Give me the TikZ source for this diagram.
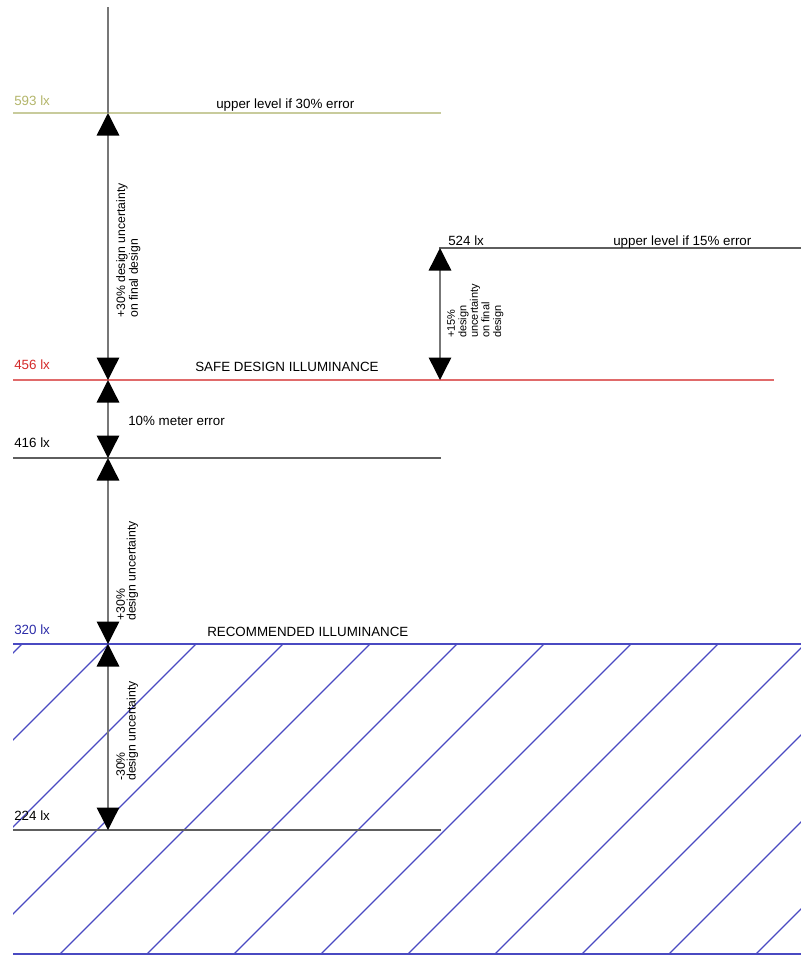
\documentclass[tikz,border=0pt]{standalone}
\usepackage{fontspec}
\setmainfont{Liberation Sans}
\usetikzlibrary{arrows.meta}

\definecolor{olivetext}{HTML}{B3B56A}
\definecolor{oliveline}{HTML}{C8CB9C}
\definecolor{safered}{HTML}{D42A2A}
\definecolor{safeline}{HTML}{E06A6A}
\definecolor{recblue}{HTML}{2B2BA8}
\definecolor{recline}{HTML}{4A4AC2}
\definecolor{axisgray}{HTML}{777777}
\definecolor{lvlgray}{HTML}{5E5E5E}

\tikzset{
  lvlline/.style={line width=1pt},
  dimarrow/.style={line width=1pt, draw=axisgray,
    {Triangle[width=16pt,length=16pt,color=black]}-{Triangle[width=16pt,length=16pt,color=black]}},
  lbl/.style={anchor=base west, inner sep=0pt, font=\fontsize{9.5}{11}\selectfont},
  vlbl/.style={rotate=90, anchor=north west, inner sep=0pt, align=left,
    font=\fontsize{8.7}{7.6}\selectfont},
  hatch/.style={recline, line width=0.8pt}
}

\begin{document}
\begin{tikzpicture}[x=0.025cm, y=-0.025cm]
  \useasboundingbox (0,0) rectangle (801,956);
  % Hatched zone below the recommended level
  \begin{scope}
    \clip (13,644) rectangle (801,954);
    \foreach \k in {-4,...,9}
      \draw[hatch] ({60+87*\k},954) -- ++(340,-340);
  \end{scope}
  % Level lines
  \draw[lvlline, oliveline] (13,113) -- (441,113);
  \draw[lvlline, lvlgray] (439,248) -- (801,248);
  \draw[lvlline, safeline] (13,380) -- (774,380);
  \draw[lvlline, lvlgray] (13,458) -- (441,458);
  \draw[lvlline, recline] (13,644) -- (801,644);
  \draw[lvlline, lvlgray] (13,830) -- (441,830);
  \draw[lvlline, recline] (13,954) -- (801,954);
  % Points on the axes
  \coordinate (top) at (108,7);
  \coordinate (a593) at (108,113);
  \coordinate (a456) at (108,380);
  \coordinate (a416) at (108,458);
  \coordinate (a320) at (108,644);
  \coordinate (a224) at (108,830);
  \coordinate (b524) at (440,248);
  \coordinate (b456) at (440,380);
  % Main axis with dimension arrows
  \draw[line width=1pt, axisgray] (top) -- (a593);
  \draw[dimarrow] (a593) -- (a456);
  \draw[dimarrow] (a456) -- (a416);
  \draw[dimarrow] (a416) -- (a320);
  \draw[dimarrow] (a320) -- (a224);
  \draw[dimarrow] (b524) -- (b456);
  % Level values
  \node[lbl, olivetext] (v593) at (14,105) {593 lx};
  \node[lbl] (v524) at (448,245) {524 lx};
  \node[lbl, safered] (v456) at (14,369) {456 lx};
  \node[lbl] (v416) at (14,447) {416 lx};
  \node[lbl, recblue] (v320) at (14,634) {320 lx};
  \node[lbl] (v224) at (14,820) {224 lx};
  % Level names
  \node[lbl] (n30) at (216,108) {upper level if 30\% error};
  \node[lbl] (n15) at (613,245) {upper level if 15\% error};
  \node[lbl] (nsafe) at (195,371) {SAFE DESIGN ILLUMINANCE};
  \node[lbl] (nmeter) at (128,425) {10\% meter error};
  \node[lbl] (nrec) at (207,636) {RECOMMENDED ILLUMINANCE};
  % Uncertainty labels along the arrows
  \node[vlbl] (u1) at (116,318) {+30\% design uncertainty\\on final design};
  \node[vlbl] (u2) at (116,621) {+30\%\\design uncertainty};
  \node[vlbl] (u3) at (116,781) {-30\%\\design uncertainty};
  \node[vlbl, font=\fontsize{7.8}{8.2}\selectfont] (u4) at (447,338)
    {+15\%\\design\\uncertainty\\on final\\design};
\end{tikzpicture}
\end{document}
